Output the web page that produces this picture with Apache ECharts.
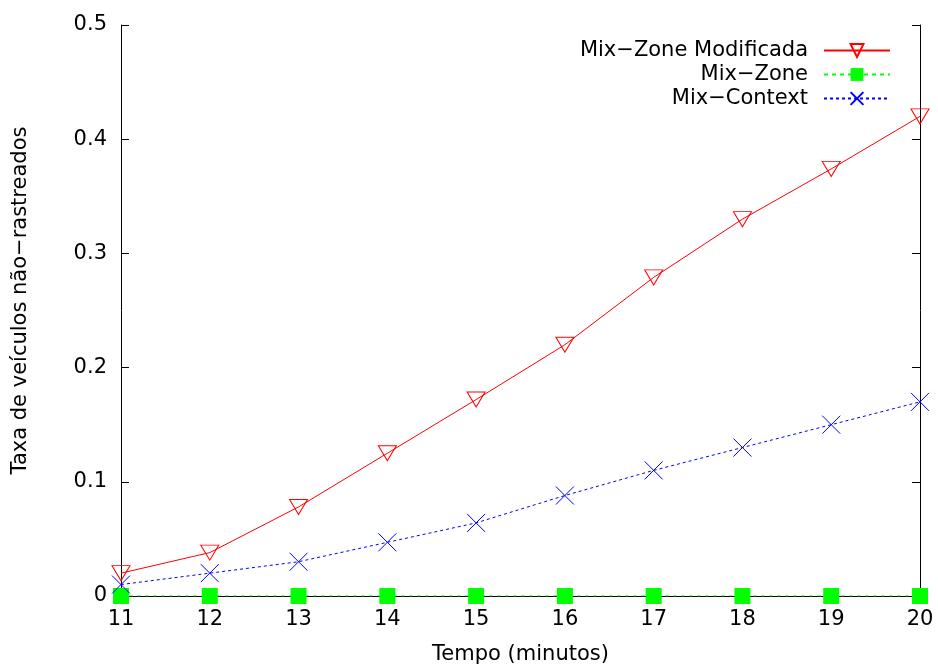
<!DOCTYPE html>
<html><head><meta charset="utf-8">
<script src="https://cdn.jsdelivr.net/npm/echarts@6/dist/echarts.min.js"></script>
<style>html,body{margin:0;padding:0;background:#fff}#c{width:938px;height:670px}</style>
</head><body><div id="c"></div>
<script>
var minutes = [11, 12, 13, 14, 15, 16, 17, 18, 19, 20];
var mixZoneModificada = [0.020, 0.038, 0.078, 0.125, 0.172, 0.220, 0.279, 0.330, 0.374, 0.420];
var mixZone = [0, 0, 0, 0, 0, 0, 0, 0, 0, 0];
var mixContext = [0.010, 0.020, 0.030, 0.047, 0.064, 0.088, 0.110, 0.130, 0.150, 0.170];
var seriesNames = ['Mix\u2212Zone Modificada', 'Mix\u2212Zone', 'Mix\u2212Context'];

function pairs(vals) { return minutes.map(function (m, i) { return [m, vals[i]]; }); }
var FONT = 'DejaVu Sans';
var FS = 21;
var chart = echarts.init(document.getElementById('c'));
var tickStyle = { show: true, inside: true, length: 8, lineStyle: { color: '#000', width: 1 } };
chart.setOption({
  animation: false,
  backgroundColor: '#fff',
  textStyle: { fontFamily: FONT },
  grid: { left: 121, right: 18, top: 25, bottom: 72 },
  legend: {
    orient: 'vertical', right: 42, top: 35, align: 'right',
    itemWidth: 66, itemHeight: 16, itemGap: 3,
    textStyle: { fontFamily: FONT, fontSize: FS, lineHeight: 21, color: '#000', width: 260, align: 'right', padding: [0, 11, 0, 0] },
    data: seriesNames
  },
  xAxis: [{
    type: 'value', min: 11, max: 20, interval: 1, position: 'bottom',
    name: 'Tempo (minutos)', nameLocation: 'middle', nameGap: 48,
    nameTextStyle: { fontSize: FS, color: '#000', fontFamily: FONT },
    axisLine: { show: true, lineStyle: { color: '#000', width: 1 } },
    axisTick: tickStyle, splitLine: { show: false },
    axisLabel: { fontSize: FS, color: '#000', margin: 13, fontFamily: FONT }
  }, {
    type: 'value', min: 11, max: 20, interval: 1, position: 'top',
    axisLine: { show: true, lineStyle: { color: '#000', width: 1 } },
    axisTick: tickStyle, splitLine: { show: false }, axisLabel: { show: false }
  }],
  yAxis: [{
    type: 'value', min: 0, max: 0.5, interval: 0.1, position: 'left',
    name: 'Taxa de ve\u00edculos n\u00e3o\u2212rastreados', nameLocation: 'middle', nameGap: 90,
    nameTextStyle: { fontSize: FS, color: '#000', fontFamily: FONT, padding: [0, 0, 0, 20] },
    axisLine: { show: true, lineStyle: { color: '#000', width: 1 } },
    axisTick: tickStyle, splitLine: { show: false },
    axisLabel: { fontSize: FS, color: '#000', margin: 14, fontFamily: FONT,
      formatter: function (v) { return v === 0 ? '0' : (+v.toFixed(1)).toString(); } }
  }, {
    type: 'value', min: 0, max: 0.5, interval: 0.1, position: 'right',
    axisLine: { show: true, lineStyle: { color: '#000', width: 1 } },
    axisTick: tickStyle, splitLine: { show: false }, axisLabel: { show: false }
  }],
  series: [{
    name: seriesNames[0], type: 'line', data: pairs(mixZoneModificada),
    symbol: 'path://M0,0L20,0L10,16Z', symbolSize: [18, 15],
    lineStyle: { color: '#ff0000', width: 1 },
    itemStyle: { color: 'none', borderColor: '#ff0000', borderWidth: 1 }, z: 3
  }, {
    name: seriesNames[1], type: 'line', data: pairs(mixZone),
    symbol: 'rect', symbolSize: 16,
    lineStyle: { color: '#00ff00', width: 1, type: [4, 4] },
    itemStyle: { color: '#00ff00' }, z: 2
  }, {
    name: seriesNames[2], type: 'line', data: pairs(mixContext),
    symbol: 'path://M0,0L10,10M10,0L0,10', symbolSize: 18,
    lineStyle: { color: '#0000ff', width: 1, type: [3, 3] },
    itemStyle: { color: '#0000ff', borderColor: '#0000ff', borderWidth: 1 }, z: 4
  }]
});
</script></body></html>
